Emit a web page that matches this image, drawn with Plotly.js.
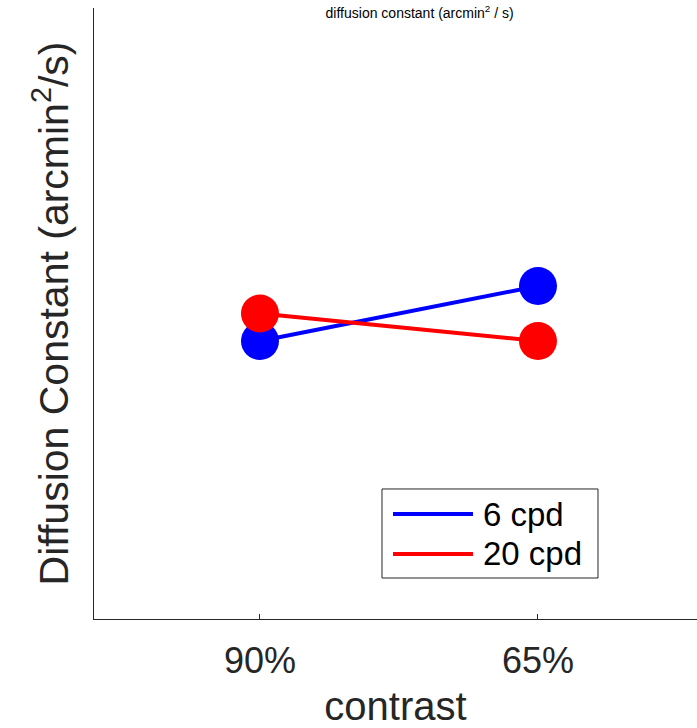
<!DOCTYPE html>
<html>
<head>
<meta charset="utf-8">
<script src="https://cdn.plot.ly/plotly-3.0.1.min.js"></script>
<style>
  html, body { margin: 0; padding: 0; background: #fff; }
  #chart { width: 697px; height: 728px; }
</style>
</head>
<body>
<div id="chart"></div>
<script>
// Contrast conditions on the x axis
const contrastLevels = ['90%', '65%'];

// Diffusion constant (arcmin^2/s) per spatial frequency
const seriesNames = ['6 cpd', '20 cpd'];
const seriesColors = ['#0000ff', '#ff0000'];
const diffusion6cpd = [9.1, 10.9];
const diffusion20cpd = [10.0, 9.1];
const seriesValues = [diffusion6cpd, diffusion20cpd];

const ink = '#262626';
const fontFamily = '"Liberation Sans", Arial, Helvetica, sans-serif';

const traces = seriesNames.map((name, i) => ({
  type: 'scatter',
  mode: 'lines+markers',
  name: name,
  x: contrastLevels,
  y: seriesValues[i],
  line: { color: seriesColors[i], width: 4 },
  marker: { color: seriesColors[i], size: 38 },
  showlegend: false,
  hoverinfo: 'x+y+name'
}));

// Hand-built legend box with long line swatches
const legendBox = { x0: 0.4776, x1: 0.8358, y0: 0.0671, y1: 0.2128 };
const legendRowsY = [0.1718, 0.1064];
const swatchX = [0.4959, 0.6285];
const labelX = 0.6417;

const shapes = [{
  type: 'rect', xref: 'paper', yref: 'paper',
  x0: legendBox.x0, x1: legendBox.x1, y0: legendBox.y0, y1: legendBox.y1,
  line: { color: ink, width: 1 }, fillcolor: '#ffffff', layer: 'above'
}];
const annotations = [];
seriesNames.forEach((name, i) => {
  shapes.push({
    type: 'line', xref: 'paper', yref: 'paper',
    x0: swatchX[0], x1: swatchX[1], y0: legendRowsY[i], y1: legendRowsY[i],
    line: { color: seriesColors[i], width: 4 }, layer: 'above'
  });
  annotations.push({
    xref: 'paper', yref: 'paper', x: labelX, y: legendRowsY[i],
    xanchor: 'left', yanchor: 'middle', showarrow: false,
    text: name, font: { family: fontFamily, size: 33, color: '#000000' }
  });
});

const layout = {
  width: 697,
  height: 728,
  margin: { l: 94, r: 0, t: 8, b: 109 },
  paper_bgcolor: '#ffffff',
  plot_bgcolor: '#ffffff',
  font: { family: fontFamily, color: ink },
  showlegend: false,
  title: {
    text: 'diffusion constant (arcmin<sup>2</sup> / s)',
    font: { family: fontFamily, size: 14, color: '#000000' },
    xref: 'paper', x: 0.54, xanchor: 'center',
    yref: 'container', y: 0.982, yanchor: 'middle'
  },
  xaxis: {
    type: 'category',
    range: [-0.597, 1.572],
    showline: true, linecolor: ink, linewidth: 1,
    showgrid: false, zeroline: false,
    ticks: 'inside', ticklen: 5, tickcolor: ink, tickwidth: 1,
    tickfont: { family: fontFamily, size: 36, color: ink },
    ticklabelstandoff: 10,
    title: { text: 'contrast', font: { family: fontFamily, size: 40, color: ink }, standoff: 12 }
  },
  yaxis: {
    range: [0, 20],
    showline: true, linecolor: ink, linewidth: 1,
    showgrid: false, zeroline: false,
    ticks: '', showticklabels: false,
    title: { text: 'Diffusion Constant (arcmin<sup>2</sup>/s)', font: { family: fontFamily, size: 41, color: ink }, standoff: 11 }
  },
  shapes: shapes,
  annotations: annotations
};

Plotly.newPlot('chart', traces, layout, { displayModeBar: false, staticPlot: true });
</script>
</body>
</html>
